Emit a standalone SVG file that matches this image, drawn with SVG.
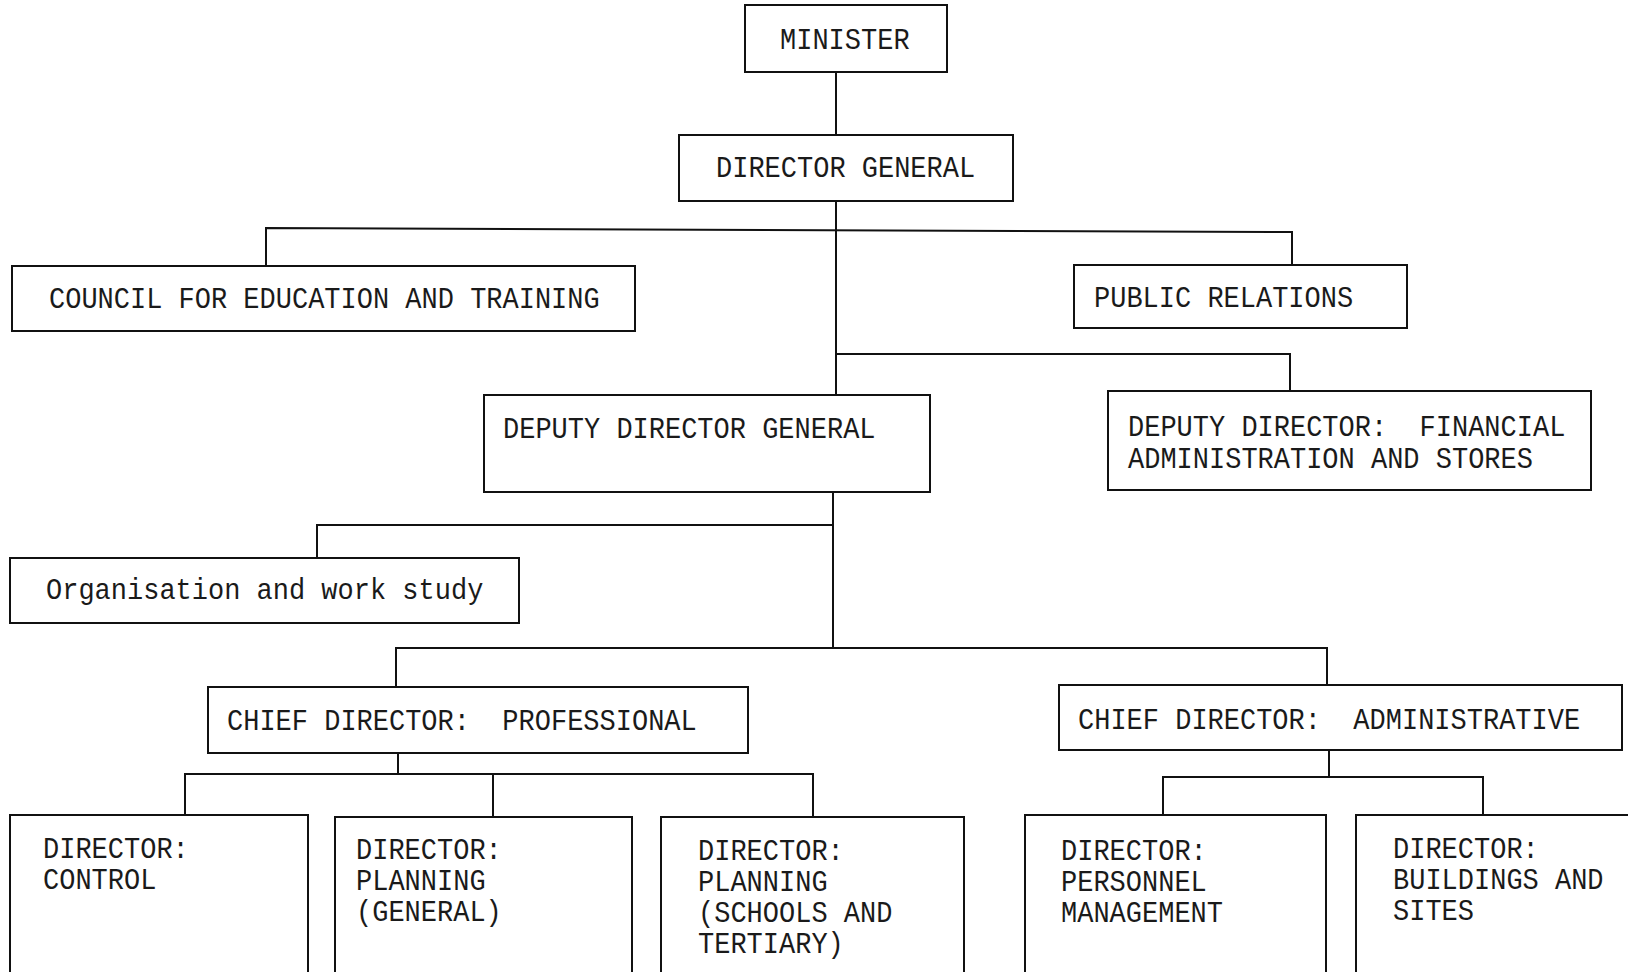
<svg xmlns="http://www.w3.org/2000/svg" width="1628" height="972" viewBox="0 0 1628 972">
  <style>
    .box { fill: #ffffff; stroke: #111111; stroke-width: 2; }
    .link { fill: none; stroke: #111111; stroke-width: 2; }
    .t { font-family: "Liberation Mono", "DejaVu Sans Mono", monospace; font-size: 27px; fill: #1a1a1a; white-space: pre; }
  </style>
  <rect x="0" y="0" width="1628" height="972" fill="#ffffff"/>

  <!-- connectors -->
  <g id="connectors">
    <path class="link" d="M836 72 V135"/>
    <path class="link" d="M836 201 V395"/>
    <path class="link" d="M266 266 V228 L1292 232 V265"/>
    <path class="link" d="M836 354 H1290 V391"/>
    <path class="link" d="M833 492 V648"/>
    <path class="link" d="M317 558 V525 H833"/>
    <path class="link" d="M396 687 V648 H1327 V685"/>
    <path class="link" d="M398 753 V774"/>
    <path class="link" d="M185 815 V774 H813 V817"/>
    <path class="link" d="M493 774 V817"/>
    <path class="link" d="M1329 750 V777"/>
    <path class="link" d="M1163 815 V777 H1483 V815"/>
  </g>

  <g id="minister">
    <rect class="box" x="745" y="5" width="202" height="67"/>
    <text class="t" transform="translate(780 49) scale(1 1.12)">MINISTER</text>
  </g>

  <g id="director-general">
    <rect class="box" x="679" y="135" width="334" height="66"/>
    <text class="t" transform="translate(716 177) scale(1 1.12)">DIRECTOR GENERAL</text>
  </g>

  <g id="council">
    <rect class="box" x="12" y="266" width="623" height="65"/>
    <text class="t" transform="translate(49 308) scale(1 1.12)">COUNCIL FOR EDUCATION AND TRAINING</text>
  </g>

  <g id="public-relations">
    <rect class="box" x="1074" y="265" width="333" height="63"/>
    <text class="t" transform="translate(1094 307) scale(1 1.12)">PUBLIC RELATIONS</text>
  </g>

  <g id="deputy-director-general">
    <rect class="box" x="484" y="395" width="446" height="97"/>
    <text class="t" transform="translate(503 438) scale(1 1.12)">DEPUTY DIRECTOR GENERAL</text>
  </g>

  <g id="deputy-director-financial">
    <rect class="box" x="1108" y="391" width="483" height="99"/>
    <text class="t" transform="translate(1128 436) scale(1 1.12)"><tspan x="0" y="0">DEPUTY DIRECTOR:&#160; FINANCIAL</tspan><tspan x="0" y="28.6">ADMINISTRATION AND STORES</tspan></text>
  </g>

  <g id="organisation-work-study">
    <rect class="box" x="10" y="558" width="509" height="65"/>
    <text class="t" transform="translate(46 599) scale(1 1.12)">Organisation and work study</text>
  </g>

  <g id="chief-director-professional">
    <rect class="box" x="208" y="687" width="540" height="66"/>
    <text class="t" transform="translate(227 730) scale(1 1.12)">CHIEF DIRECTOR:&#160; PROFESSIONAL</text>
  </g>

  <g id="chief-director-administrative">
    <rect class="box" x="1059" y="685" width="563" height="65"/>
    <text class="t" transform="translate(1078 729) scale(1 1.12)">CHIEF DIRECTOR:&#160; ADMINISTRATIVE</text>
  </g>

  <g id="director-control">
    <rect class="box" x="10" y="815" width="298" height="170"/>
    <text class="t" transform="translate(43 858) scale(1 1.12)"><tspan x="0" y="0">DIRECTOR:</tspan><tspan x="0" y="27.7">CONTROL</tspan></text>
  </g>

  <g id="director-planning-general">
    <rect class="box" x="335" y="817" width="297" height="170"/>
    <text class="t" transform="translate(356 859) scale(1 1.12)"><tspan x="0" y="0">DIRECTOR:</tspan><tspan x="0" y="27.7">PLANNING</tspan><tspan x="0" y="55.4">(GENERAL)</tspan></text>
  </g>

  <g id="director-planning-schools">
    <rect class="box" x="661" y="817" width="303" height="170"/>
    <text class="t" transform="translate(698 860) scale(1 1.12)"><tspan x="0" y="0">DIRECTOR:</tspan><tspan x="0" y="27.7">PLANNING</tspan><tspan x="0" y="55.4">(SCHOOLS AND</tspan><tspan x="0" y="83.1">TERTIARY)</tspan></text>
  </g>

  <g id="director-personnel">
    <rect class="box" x="1025" y="815" width="301" height="170"/>
    <text class="t" transform="translate(1061 860) scale(1 1.12)"><tspan x="0" y="0">DIRECTOR:</tspan><tspan x="0" y="27.7">PERSONNEL</tspan><tspan x="0" y="55.4">MANAGEMENT</tspan></text>
  </g>

  <g id="director-buildings">
    <rect class="box" x="1356" y="815" width="290" height="170"/>
    <text class="t" transform="translate(1393 858) scale(1 1.12)"><tspan x="0" y="0">DIRECTOR:</tspan><tspan x="0" y="27.7">BUILDINGS AND</tspan><tspan x="0" y="55.4">SITES</tspan></text>
  </g>
</svg>
